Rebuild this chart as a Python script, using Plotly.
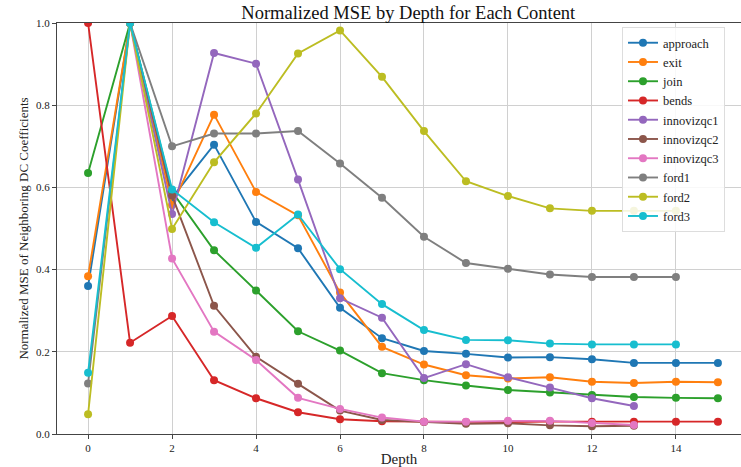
import plotly.graph_objects as go

names = ["approach", "exit", "join", "bends", "innovizqc1", "innovizqc2",
         "innovizqc3", "ford1", "ford2", "ford3"]
colors = ["#1f77b4", "#ff7f0e", "#2ca02c", "#d62728", "#9467bd", "#8c564b",
          "#e377c2", "#7f7f7f", "#bcbd22", "#17becf"]

approach = [0.360, 1.0, 0.575, 0.704, 0.516, 0.452, 0.307, 0.233, 0.202, 0.195, 0.186, 0.187, 0.182, 0.173, 0.173, 0.173]
exit_ = [0.384, 1.0, 0.557, 0.777, 0.589, 0.532, 0.344, 0.212, 0.169, 0.143, 0.135, 0.138, 0.127, 0.124, 0.127, 0.126]
join = [0.635, 1.0, 0.590, 0.447, 0.349, 0.250, 0.203, 0.148, 0.131, 0.118, 0.107, 0.101, 0.095, 0.090, 0.088, 0.087]
bends = [1.0, 0.222, 0.287, 0.131, 0.087, 0.053, 0.036, 0.031, 0.030, 0.029, 0.029, 0.030, 0.030, 0.030, 0.030, 0.030]
innovizqc1 = [1.0, 0.535, 0.927, 0.901, 0.619, 0.330, 0.283, 0.136, 0.170, 0.138, 0.113, 0.087, 0.068]
innovizqc2 = [1.0, 0.580, 0.312, 0.188, 0.122, 0.057, 0.034, 0.029, 0.025, 0.026, 0.021, 0.019, 0.020]
innovizqc3 = [1.0, 0.427, 0.249, 0.180, 0.088, 0.061, 0.040, 0.030, 0.030, 0.032, 0.032, 0.027, 0.022]
ford1 = [0.123, 1.0, 0.700, 0.731, 0.731, 0.737, 0.658, 0.575, 0.480, 0.416, 0.402, 0.388, 0.382, 0.382, 0.382]
ford2 = [0.048, 1.0, 0.499, 0.661, 0.780, 0.926, 0.982, 0.869, 0.737, 0.615, 0.579, 0.549, 0.543, 0.543, 0.543]
ford3 = [0.149, 1.0, 0.595, 0.515, 0.453, 0.534, 0.401, 0.316, 0.253, 0.229, 0.228, 0.220, 0.218, 0.218, 0.218]

series = [approach, exit_, join, bends, innovizqc1, innovizqc2, innovizqc3, ford1, ford2, ford3]
starts = [0, 0, 0, 0, 1, 1, 1, 0, 0, 0]

fig = go.Figure()
for name, col, vals, s in zip(names, colors, series, starts):
    xs = list(range(s, s + len(vals)))
    fig.add_trace(go.Scatter(
        x=xs, y=vals, name=name, mode="lines+markers",
        line=dict(color=col, width=1.9),
        marker=dict(color=col, size=8),
    ))

font_family = "Liberation Serif"
fig.update_layout(
    width=741, height=467,
    margin=dict(l=57, r=0, t=23, b=33),
    paper_bgcolor="white", plot_bgcolor="white",
    font=dict(family=font_family, color="#222"),
    title=dict(text="Normalized MSE by Depth for Each Content",
               x=0.551, xanchor="center", y=0.974, yanchor="middle",
               font=dict(size=18.5, family=font_family, color="#111")),
    legend=dict(x=0.826, y=0.99, xanchor="left", yanchor="top",
                bgcolor="rgba(255,255,255,0.85)", bordercolor="#dddddd",
                borderwidth=1, font=dict(size=12.5, family=font_family),
                tracegroupgap=0, itemwidth=30),
    showlegend=True,
)
fig.update_xaxes(
    range=[-0.74, 15.55], tickmode="array", tickvals=[0, 2, 4, 6, 8, 10, 12, 14],
    showgrid=True, gridcolor="#d0d0d0", gridwidth=1,
    showline=True, linecolor="#444", linewidth=1.2, mirror=True,
    ticks="outside", ticklen=4, tickcolor="#444",
    tickfont=dict(size=11, family=font_family),
    zeroline=False,
    title=dict(text="Depth", font=dict(size=15, family=font_family), standoff=2),
    automargin=False,
)
fig.update_yaxes(
    range=[0, 1.0], tickmode="array", tickvals=[0, 0.2, 0.4, 0.6, 0.8, 1.0],
    ticktext=["0.0", "0.2", "0.4", "0.6", "0.8", "1.0"],
    showgrid=True, gridcolor="#d0d0d0", gridwidth=1,
    showline=True, linecolor="#444", linewidth=1.2,
    ticks="outside", ticklen=4, tickcolor="#444",
    tickfont=dict(size=11, family=font_family),
    zeroline=False,
    title=dict(text="Normalized MSE of Neighboring DC Coefficients",
               font=dict(size=13, family=font_family), standoff=4),
    automargin=False,
)

fig.write_html("out.html")
